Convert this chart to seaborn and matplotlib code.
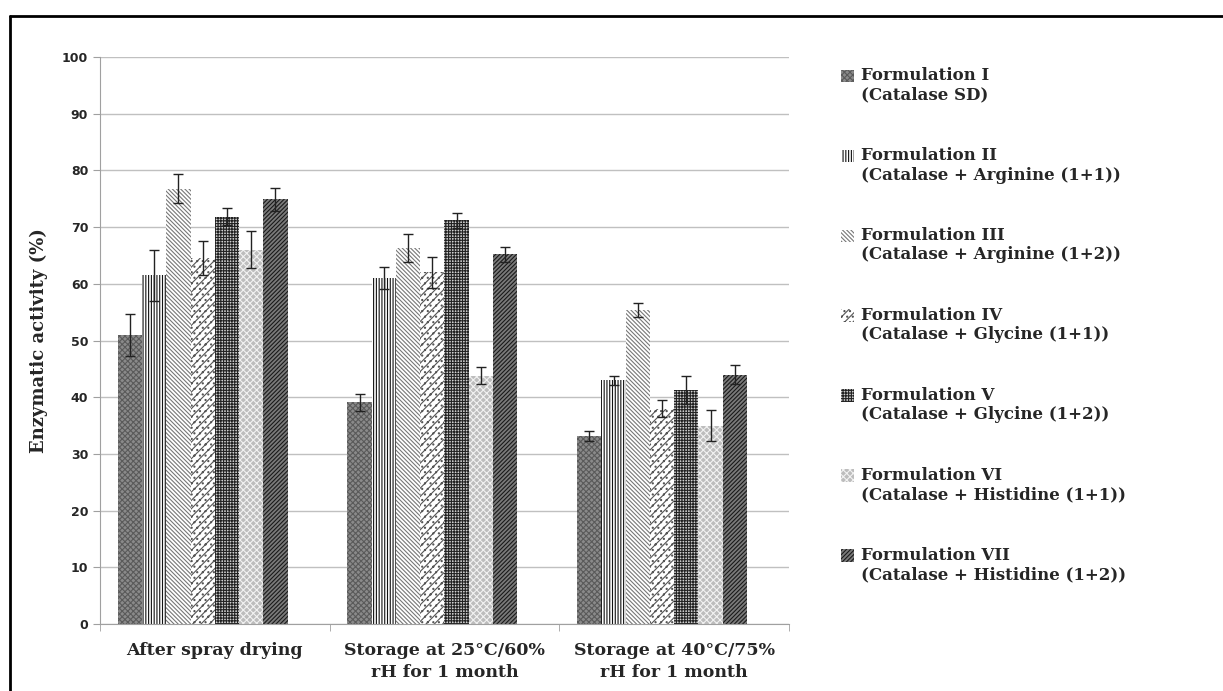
import numpy as np
import pandas as pd
import seaborn as sns
import matplotlib.pyplot as plt
from matplotlib.lines import Line2D
from matplotlib.patches import Rectangle
from matplotlib.container import BarContainer
from matplotlib.legend_handler import HandlerPatch, update_from_first_child

conditions = ["After spray drying", "Storage at 25°C/60%\nrH for 1 month", "Storage at 40°C/75%\nrH for 1 month"]
formulations = ["Formulation I\n(Catalase SD)",
                "Formulation II\n(Catalase + Arginine (1+1))",
                "Formulation III\n(Catalase + Arginine (1+2))",
                "Formulation IV\n(Catalase + Glycine (1+1))",
                "Formulation V\n(Catalase + Glycine (1+2))",
                "Formulation VI\n(Catalase + Histidine (1+1))",
                "Formulation VII\n(Catalase + Histidine (1+2))"]
# rows = formulation, cols = condition
activity = [[51.0, 39.1, 33.1],
            [61.5, 61.0, 43.0],
            [76.8, 66.3, 55.4],
            [64.5, 62.0, 38.0],
            [71.8, 71.2, 41.3],
            [66.0, 43.8, 35.0],
            [74.9, 65.2, 44.0]]
errors = [[3.7, 1.5, 0.9],
          [4.5, 2.0, 0.8],
          [2.6, 2.5, 1.2],
          [3.0, 2.7, 1.5],
          [1.5, 1.3, 2.5],
          [3.3, 1.5, 2.7],
          [2.0, 1.3, 1.7]]

rows = []
for i, f in enumerate(formulations):
    for j, c in enumerate(conditions):
        rows.append({"condition": c, "formulation": f, "activity": activity[i][j]})
df = pd.DataFrame(rows)

sns.set_style("white")
plt.rcParams['hatch.linewidth'] = 0.8

fig = plt.figure(figsize=(12.23, 6.91), dpi=100)
ax = fig.add_axes([100/1223, 67/691, 689/1223, 567/691])

# the original chart keeps an empty 8th slot in each group, so bars sit left of the label
sns.barplot(data=df, x="condition", y="activity", hue="formulation", order=conditions,
            hue_order=formulations + [" "], errorbar=None, width=0.845, ax=ax, legend=False)

# (face, hatch colour, hatch)
styles = [("#8a8a8a", "#5a5a5a", "xxxxxx"),
          ("white", "#111111", "||||||"),
          ("white", "#777777", "\\\\\\\\\\\\\\\\"),
          ("white", "#555555", "////..."),
          ("#d0d0d0", "#222222", "++++++"),
          ("#bdbdbd", "#f2f2f2", "xxxxx"),
          ("#7a7a7a", "#1a1a1a", "////////")]

bars = list(ax.containers)[:7]
for k, cont in enumerate(bars):
    face, hc, h = styles[k]
    for j, p in enumerate(cont.patches):
        p.set_facecolor(face)
        p.set_edgecolor(hc)
        p.set_hatch(h)
        p.set_linewidth(0)
        x = p.get_x() + p.get_width() / 2
        ax.errorbar(x, p.get_height(), yerr=errors[k][j], color="#222222",
                    elinewidth=1, capsize=3.5, capthick=1)

ax.set_ylim(0, 100)
ax.set_xlim(-0.5, 2.5)
ax.set_yticks(range(0, 101, 10))
ax.yaxis.grid(True, color="#c0c0c0", linewidth=1)
ax.set_axisbelow(True)
for s in ["top", "right"]:
    ax.spines[s].set_visible(False)
ax.spines["left"].set_color("#a0a0a0")
ax.spines["bottom"].set_color("#a0a0a0")
ax.tick_params(axis="y", length=5, color="#a0a0a0", left=True, labelsize=9)
ax.set_xticks([-0.5, 0.5, 1.5, 2.5], minor=True)
ax.tick_params(axis="x", which="minor", length=5, color="#a0a0a0", bottom=True)
for t in ax.get_yticklabels():
    t.set_fontweight("bold")
ax.set_xticks(range(3))
ax.set_xticklabels(conditions, family="DejaVu Serif", fontweight="bold", fontsize=12.5, linespacing=1.35)
ax.tick_params(axis="x", which="major", length=0, pad=13)
ax.set_xlabel("")
ax.set_ylabel("Enzymatic activity (%)", family="DejaVu Serif", fontweight="bold", fontsize=13)
ax.yaxis.set_label_coords(-52/689, 0.5)


def top_patch(legend, orig_handle, xdescent, ydescent, width, height, fontsize):
    # marker sits on the first line of the two-line label
    return Rectangle((-xdescent, -ydescent + 0.6 * fontsize), width, height)


leg = ax.legend(bars, formulations, loc="upper left", bbox_to_anchor=(826/1223, 1 - 52/691),
                bbox_transform=fig.transFigure, frameon=False, handlelength=0.8, handleheight=0.8,
                handletextpad=0.4, labelspacing=2.6,
                handler_map={BarContainer: HandlerPatch(patch_func=top_patch, update_func=update_from_first_child)},
                prop={"family": "DejaVu Serif", "weight": "bold", "size": 12})

# outer frame
fig.add_artist(Line2D([10/1223, 10/1223], [0, 1 - 16/691], color="black", linewidth=2, transform=fig.transFigure))
fig.add_artist(Line2D([10/1223, 1], [1 - 16/691, 1 - 16/691], color="black", linewidth=2, transform=fig.transFigure))

fig.savefig("out.png", dpi=100)
